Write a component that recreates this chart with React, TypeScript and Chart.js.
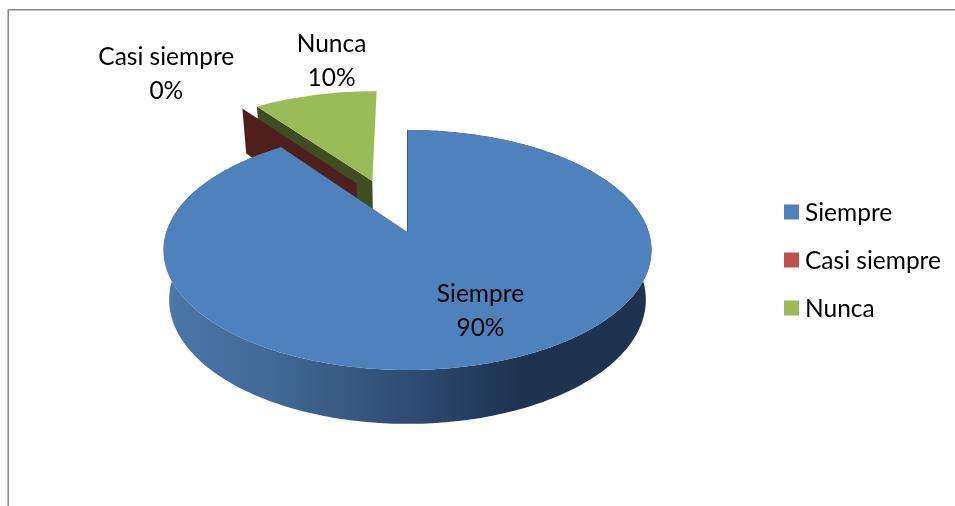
import React, { useEffect, useRef } from "react";
import { Chart, registerables } from "chart.js";

Chart.register(...registerables);

const categories = ["Siempre", "Casi siempre", "Nunca"];
const values = [90, 0, 10];
const faceColors = ["#4f81bd", "#c0504d", "#9bbb59"];
const wallColors = ["#2f4c72", "#4f1f1e", "#3f4d21"];

const FONT = "Lato, sans-serif";
const LABEL_FONT_SIZE = 24.5;
const LABEL_LINE_STEP = 34;
const TEXT_NUDGE = 1;

// Perspective disc: unit-circle coordinates are projected to the page.
const view = { cx: 407.5, cy: 232, a: 241.2, b: 117.3, k: 0.15 };
// Base of the disc relative to its top face.
const base = { cx: 408, scaleX: 0.977, refY: 109, drop: 45, scaleY: 0.034 };
// Pulled-out distance per slice, in unit-circle coordinates.
const slicePull = [
  [0, 0],
  [-0.225, 0.44],
  [-0.156, 0.465],
];
// Label centre per slice, in unit-circle coordinates.
const labelSpots = [
  [0.275, -0.605],
  [-1.255, 1.7],
  [-0.404, 1.88],
];
// Key at the right of the chart.
const legendBox = { x: 784, size: 15, textX: 805, firstY: 212, step: 48 };

type Pt = [number, number];

const project = (u: number, v: number): Pt => {
  const w = 1 + view.k * v;
  return [view.cx + (view.a * u) / w, view.cy - (view.b * v) / w];
};

const lower = ([x, y]: Pt): Pt => [
  base.cx + (x - base.cx) * base.scaleX,
  y + base.drop + (y - base.refY) * base.scaleY,
];

const trace = (ctx: CanvasRenderingContext2D, pts: Pt[]) => {
  ctx.beginPath();
  pts.forEach(([x, y], i) => (i ? ctx.lineTo(x, y) : ctx.moveTo(x, y)));
  ctx.closePath();
};

const rimPoints = (start: number, end: number, pull: number[]): Pt[] => {
  const steps = Math.max(1, Math.ceil((end - start) / (Math.PI / 180)));
  const pts: Pt[] = [];
  for (let i = 0; i <= steps; i++) {
    const t = start + ((end - start) * i) / steps;
    pts.push(project(Math.cos(t) + pull[0], -Math.sin(t) + pull[1]));
  }
  return pts;
};

const disc3d = {
  id: "disc3d",
  beforeDraw(chart: Chart) {
    const { ctx, width, height } = chart;
    ctx.save();
    ctx.fillStyle = "#ffffff";
    ctx.fillRect(0, 0, width, height);
    // Chart frame: only the top and left edges fall inside the page.
    ctx.fillStyle = "#8a8a8a";
    ctx.fillRect(8, 9, width - 8, 1);
    ctx.fillRect(8, 9, 1, height - 9);
    ctx.fillStyle = "#bdbdbd";
    ctx.fillRect(9, 10, width - 9, 1);
    ctx.fillRect(7, 9, 1, height - 9);
    ctx.restore();
  },
  beforeDatasetsDraw(chart: Chart) {
    const { ctx } = chart;
    const arcs = chart.getDatasetMeta(0).data as any[];
    ctx.save();

    const wallGradient = ctx.createLinearGradient(170, 0, 650, 0);
    wallGradient.addColorStop(0, "#4a76a8");
    wallGradient.addColorStop(0.2, "#426a98");
    wallGradient.addColorStop(0.5, "#2f4c72");
    wallGradient.addColorStop(0.73, "#1d3350");
    wallGradient.addColorStop(1, "#1d3350");

    // Pulled-out slices go first so the large slice sits over them.
    [2, 1, 0].forEach((i) => {
      const { startAngle, endAngle } = arcs[i];
      const pull = slicePull[i];
      const apex = project(pull[0], pull[1]);
      const rim = rimPoints(startAngle, endAngle, pull);

      // Outer curved wall; only the large slice shows it to the viewer.
      if (i === 0) {
        ctx.fillStyle = wallGradient;
        trace(ctx, [...rim, ...rim.map(lower).reverse()]);
        ctx.fill();
      }

      // Cut wall along the leading edge of the slice.
      ctx.fillStyle = i === 0 ? "#1d3350" : wallColors[i];
      ctx.strokeStyle = "#1d3350";
      ctx.lineWidth = 1;
      trace(ctx, [apex, rim[0], lower(rim[0]), lower(apex)]);
      ctx.fill();
      if (i === 0) ctx.stroke();

      // Top face.
      if (endAngle > startAngle) {
        trace(ctx, [apex, ...rim]);
        ctx.fillStyle = faceColors[i];
        ctx.fill();
      }
    });

    ctx.restore();
    return false;
  },
  afterDraw(chart: Chart) {
    const { ctx } = chart;
    const total = values.reduce((s, n) => s + n, 0);
    ctx.save();
    ctx.fillStyle = "#000000";
    ctx.font = `${LABEL_FONT_SIZE}px ${FONT}`;
    ctx.textAlign = "center";
    ctx.textBaseline = "middle";
    categories.forEach((name, i) => {
      const [x, y] = project(labelSpots[i][0], labelSpots[i][1]);
      const pct = `${Math.round((values[i] / total) * 100)}%`;
      ctx.fillText(name, x, y - LABEL_LINE_STEP / 2 + TEXT_NUDGE);
      ctx.fillText(pct, x, y + LABEL_LINE_STEP / 2 + TEXT_NUDGE);
    });

    ctx.textAlign = "left";
    categories.forEach((name, i) => {
      const y = legendBox.firstY + legendBox.step * i;
      ctx.fillStyle = faceColors[i];
      ctx.fillRect(legendBox.x, y - legendBox.size / 2, legendBox.size, legendBox.size);
      ctx.fillStyle = "#000000";
      ctx.fillText(name, legendBox.textX, y + TEXT_NUDGE);
    });
    ctx.restore();
  },
};

export default function App() {
  const ref = useRef<HTMLCanvasElement>(null);

  useEffect(() => {
    const chart = new Chart(ref.current!, {
      type: "pie",
      data: {
        labels: categories,
        datasets: [{ data: values, backgroundColor: faceColors, borderWidth: 0 }],
      },
      options: {
        animation: false,
        responsive: false,
        plugins: {
          tooltip: { enabled: false },
          legend: { display: false },
        },
      },
      plugins: [disc3d],
    });
    return () => chart.destroy();
  }, []);

  return (
    <canvas
      ref={ref}
      width={955}
      height={506}
      style={{ position: "fixed", left: 0, top: 0, width: 955, height: 506 }}
    />
  );
}
